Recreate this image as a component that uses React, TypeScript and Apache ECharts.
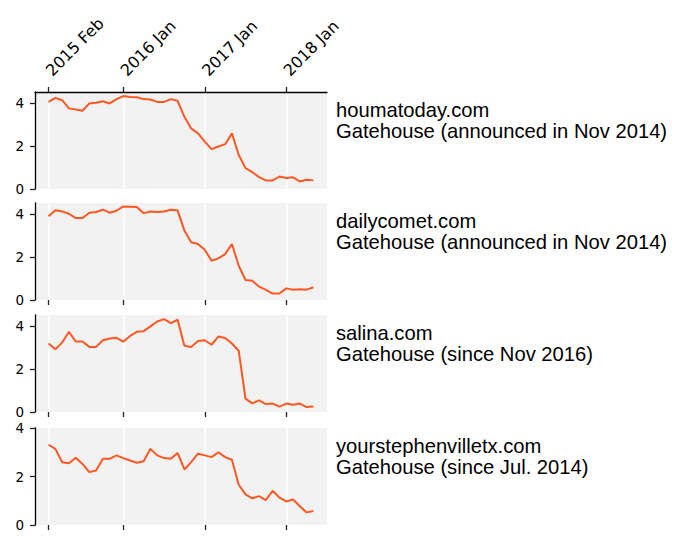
import React, { useEffect, useRef } from "react";
import * as echarts from "echarts";

// month index 0 = 2015 Feb, monthly through 2018 May
const tickMonths = [0, 11, 23, 35];
const tickLabels = ["2015 Feb", "2016 Jan", "2017 Jan", "2018 Jan"];
const yTicks = [0, 2, 4];

const sites = ["houmatoday.com", "dailycomet.com", "salina.com", "yourstephenvilletx.com"];
const owners = [
  "Gatehouse (announced in Nov 2014)",
  "Gatehouse (announced in Nov 2014)",
  "Gatehouse (since Nov 2016)",
  "Gatehouse (since Jul. 2014)",
];
const yMaxes = [4.5, 4.5, 4.5, 4];

const houmatoday = [
  4.04, 4.23, 4.12, 3.74, 3.69, 3.63, 3.97, 4.0, 4.07, 3.97,
  4.17, 4.31, 4.27, 4.26, 4.17, 4.15, 4.04, 4.04, 4.17, 4.09,
  3.35, 2.81, 2.58, 2.2, 1.85, 1.97, 2.08, 2.58, 1.58, 0.97,
  0.78, 0.55, 0.4, 0.4, 0.58, 0.51, 0.54, 0.35, 0.43, 0.4,
];
const dailycomet = [
  3.89, 4.16, 4.11, 4.0, 3.8, 3.8, 4.05, 4.08, 4.19, 4.05,
  4.14, 4.34, 4.33, 4.31, 4.03, 4.11, 4.08, 4.11, 4.19, 4.16,
  3.22, 2.68, 2.6, 2.33, 1.82, 1.93, 2.13, 2.6, 1.59, 0.93,
  0.89, 0.62, 0.47, 0.3, 0.3, 0.54, 0.48, 0.5, 0.48, 0.59,
];
const salina = [
  3.18, 2.91, 3.22, 3.72, 3.27, 3.27, 3.02, 3.02, 3.33, 3.41,
  3.44, 3.26, 3.53, 3.72, 3.75, 3.97, 4.2, 4.31, 4.12, 4.28,
  3.07, 3.02, 3.29, 3.33, 3.12, 3.5, 3.43, 3.18, 2.84, 0.62,
  0.4, 0.54, 0.37, 0.39, 0.25, 0.39, 0.34, 0.39, 0.23, 0.26,
];
const yourstephenvilletx = [
  3.31, 3.14, 2.59, 2.55, 2.77, 2.52, 2.18, 2.25, 2.73, 2.73,
  2.87, 2.76, 2.66, 2.57, 2.63, 3.14, 2.87, 2.76, 2.73, 2.97,
  2.29, 2.59, 2.94, 2.87, 2.8, 3.0, 2.8, 2.69, 1.66, 1.26,
  1.1, 1.19, 1.03, 1.41, 1.13, 0.97, 1.05, 0.77, 0.52, 0.58,
];
const seriesValues = [houmatoday, dailycomet, salina, yourstephenvilletx];

const gridTops = [92, 203, 315, 428];
const gridHeight = 97;
const gridLeft = 35;
const gridWidth = 292;

export default function App() {
  const ref = useRef<HTMLDivElement>(null);
  useEffect(() => {
    if (!ref.current) return;
    const chart = echarts.init(ref.current, undefined, { renderer: "svg" });
    const axisFont = "'DejaVu Sans', sans-serif";
    const grids = gridTops.map((top) => ({
      left: gridLeft,
      width: gridWidth,
      top,
      height: gridHeight,
      show: true,
      backgroundColor: "#f2f2f2",
      borderWidth: 0,
      containLabel: false,
      outerBoundsMode: "none",
    }));
    const xAxes = gridTops.map((_, i) => ({
      gridIndex: i,
      type: "value",
      min: -2,
      max: 41,
      position: i === 0 ? "top" : "bottom",
      axisLine: { show: i === 0, onZero: false, lineStyle: { color: "#000", width: 1.3 } },
      axisTick: {
        show: true,
        customValues: tickMonths,
        length: 5,
        lineStyle: { color: "#222", width: 1.3 },
      },
      axisLabel: {
        show: i === 0,
        customValues: tickMonths,
        formatter: (v: number) => tickLabels[tickMonths.indexOf(v)] ?? "",
        rotate: -45,
        fontSize: 16,
        fontFamily: axisFont,
        color: "#000",
        margin: 19,
        hideOverlap: false,
      },
      splitLine: { show: true, lineStyle: { color: "#ffffff", width: 1.5 } },
    }));
    const yAxes = gridTops.map((_, i) => ({
      gridIndex: i,
      type: "value",
      min: 0,
      max: yMaxes[i],
      axisLine: { show: true, onZero: false, lineStyle: { color: "#000", width: 1.3 } },
      axisTick: {
        show: true,
        customValues: yTicks,
        length: 5,
        lineStyle: { color: "#222", width: 1.3 },
      },
      axisLabel: {
        customValues: yTicks,
        fontSize: 13.5,
        lineHeight: 13,
        fontFamily: axisFont,
        color: "#000",
        margin: 11,
      },
      splitLine: { show: false },
    }));
    const series = seriesValues.map((vals, i) => ({
      type: "line",
      xAxisIndex: i,
      yAxisIndex: i,
      data: vals.map((v, j) => [j, v]),
      showSymbol: false,
      lineStyle: { color: "#ff5722", width: 2 },
      itemStyle: { color: "#ff5722" },
      z: 3,
    }));
    const graphic = gridTops.map((top, i) => ({
      type: "text",
      left: 336,
      top: top + 7,
      style: {
        text: sites[i] + "\n" + owners[i],
        fontSize: 20.2,
        lineHeight: 21,
        fontFamily: "'Liberation Sans', Arial, sans-serif",
        fill: "#000",
      },
    }));
    chart.setOption({
      animation: false,
      backgroundColor: "#ffffff",
      grid: grids,
      xAxis: xAxes,
      yAxis: yAxes,
      series,
      graphic,
    } as any);
    return () => chart.dispose();
  }, []);
  return (
    <div
      ref={ref}
      style={{ position: "fixed", left: 0, top: 0, width: 677, height: 548 }}
    />
  );
}
